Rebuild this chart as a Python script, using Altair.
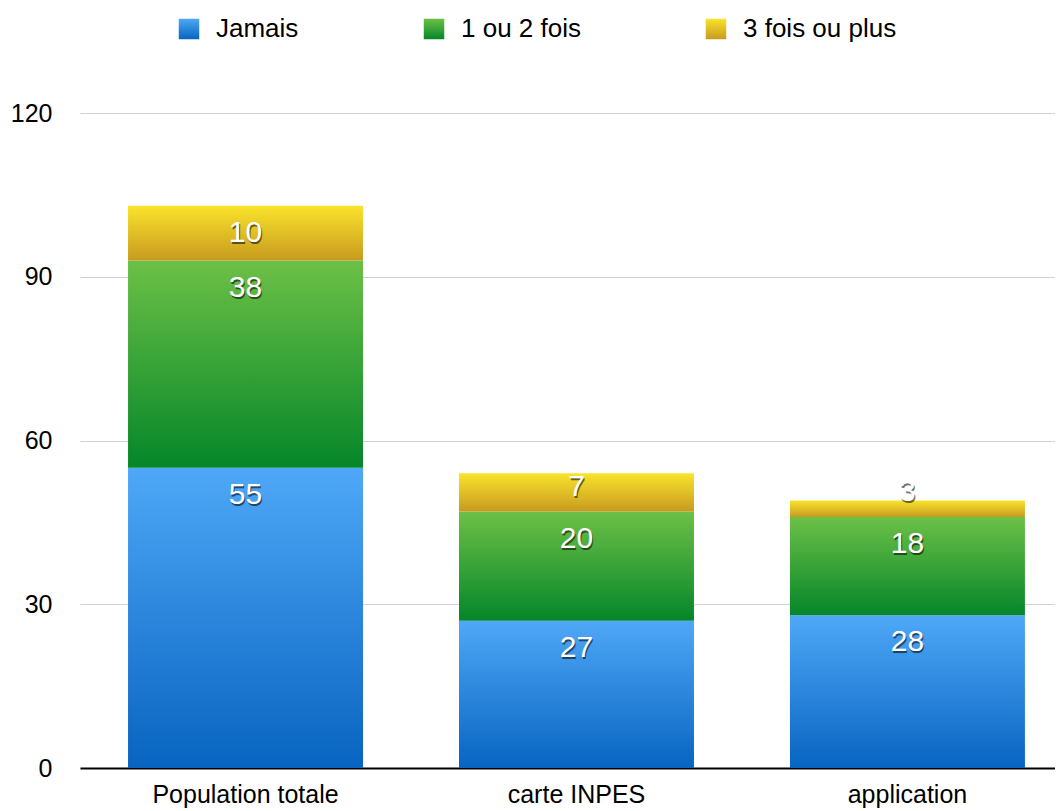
import altair as alt
import pandas as pd

categories = ["Population totale", "carte INPES", "application"]
series = ["Jamais", "1 ou 2 fois", "3 fois ou plus"]
jamais = [55, 27, 28]
une_ou_deux = [38, 20, 18]
trois_plus = [10, 7, 3]
y_ticks = [0, 30, 60, 90, 120]
grad_top = ["#4fa8f7", "#6cc046", "#fae32c"]
grad_bottom = ["#0764c0", "#05862a", "#c79b1f"]

rows = []
for k, (s, vals) in enumerate(zip(series, [jamais, une_ou_deux, trois_plus])):
    for c, v in zip(categories, vals):
        rows.append({"cat": c, "series": s, "k": k, "value": v})
df = pd.DataFrame(rows)


def grad_expr(t, b):
    return alt.ExprRef(
        expr="{gradient: 'linear', x1: 0, y1: 0, x2: 0, y2: 1, stops: ["
        f"{{offset: 0, color: '{t}'}}, {{offset: 1, color: '{b}'}}]}}"
    )


FONT = "Liberation Sans"

base = alt.Chart(df).transform_stack(
    stack="value",
    groupby=["cat"],
    as_=["y0", "y1"],
    sort=[alt.SortField("k", order="ascending")],
)

x_enc = alt.X(
    "cat:N",
    sort=categories,
    title=None,
    scale=alt.Scale(paddingInner=0.29, paddingOuter=0.118, align=0.615),
    axis=alt.Axis(
        labelAngle=0,
        labelFontSize=25,
        labelFont=FONT,
        labelColor="#000000",
        labelPadding=14,
        labelLimit=0,
        ticks=False,
        domainColor="#000000",
        domainWidth=2,
        grid=False,
    ),
)

bars = base.mark_bar().encode(
    x=x_enc,
    y=alt.Y(
        "y0:Q",
        title=None,
        scale=alt.Scale(domain=[0, 120], nice=False),
        axis=alt.Axis(
            values=y_ticks,
            labelFontSize=25,
            labelFont=FONT,
            labelColor="#000000",
            labelPadding=28,
            ticks=False,
            domain=False,
            gridColor="#d2d2d2",
            gridWidth=1,
        ),
    ),
    y2="y1:Q",
    color=alt.Color(
        "series:N",
        scale=alt.Scale(
            domain=series,
            range=[grad_expr(t, b) for t, b in zip(grad_top, grad_bottom)],
        ),
        legend=alt.Legend(
            title=None,
            orient="none",
            direction="horizontal",
            legendX=96,
            legendY=-97,
            symbolType="square",
            symbolSize=420,
            symbolStrokeWidth=0,
            labelFontSize=26,
            labelFont=FONT,
            labelColor="#000000",
            labelOffset=14,
            columnPadding=122,
            padding=0,
        ),
    ),
)

labels = base.transform_calculate(
    ly="max(datum.y1 - 5, datum.y0 + 4.5)"
)

shadow = labels.mark_text(
    fontSize=30, font=FONT, color="#000000", opacity=0.55, dx=1, dy=2,
    baseline="middle", align="center",
).encode(x=alt.X("cat:N", sort=categories), y="ly:Q", text="value:Q")

text = labels.mark_text(
    fontSize=30, font=FONT, color="#ffffff",
    baseline="middle", align="center",
).encode(x=alt.X("cat:N", sort=categories), y="ly:Q", text="value:Q")

chart = (
    alt.layer(bars, shadow, text)
    .properties(
        width=975,
        height=655,
        autosize=alt.AutoSizeParams(type="none"),
        padding={"left": 72, "top": 105, "right": 0, "bottom": 41},
    )
    .configure_view(stroke=None)
)

chart.save("out.html", embed_options={"renderer": "svg", "actions": False})
